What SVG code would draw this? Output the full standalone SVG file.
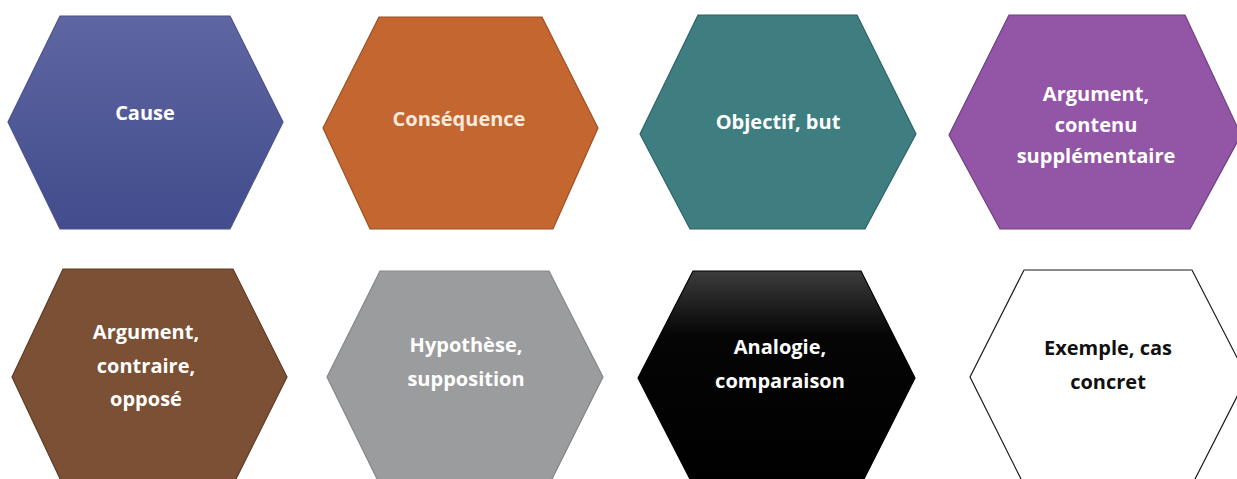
<svg xmlns="http://www.w3.org/2000/svg" width="1237" height="479" viewBox="0 0 1237 479">
  <style>
    .hex { stroke-width: 1.2; }
    .lbl { font-family: "Open Sans", "Liberation Sans", sans-serif; font-weight: 700; font-size: 20px; text-anchor: middle; fill: #ffffff; }
    .dark { fill: #111111; }
  </style>
  <defs>
    <linearGradient id="gBlue" x1="0" y1="0" x2="0" y2="1">
      <stop offset="0" stop-color="#5e67a2"/>
      <stop offset="1" stop-color="#434c8c"/>
    </linearGradient>
    <linearGradient id="gBlack" x1="0" y1="0" x2="0" y2="1">
      <stop offset="0" stop-color="#3c3c3c"/>
      <stop offset="0.3" stop-color="#050505"/>
      <stop offset="1" stop-color="#000000"/>
    </linearGradient>
  </defs>

  <rect width="1237" height="479" fill="#ffffff"/>

  <g id="cause">
    <polygon class="hex" points="60,16 230,16 283,122 230,229 60,229 8,122" fill="url(#gBlue)" stroke="#4a528f"/>
    <text class="lbl" x="145" y="120">Cause</text>
  </g>

  <g id="consequence">
    <polygon class="hex" points="379,17 542,17 598,128 553,229 370,229 323,128" fill="#c3662f" stroke="#9c5025"/>
    <text class="lbl" x="459" y="126" style="fill:#fbe9dc">Conséquence</text>
  </g>

  <g id="objectif">
    <polygon class="hex" points="698,15 857,15 916,134 865,229 690,229 640,134" fill="#3e7d80" stroke="#2f6366"/>
    <text class="lbl" x="778" y="129">Objectif, but</text>
  </g>

  <g id="argument-supplementaire">
    <polygon class="hex" points="1009,15 1185,15 1241,135 1190,229 1000,229 949,135" fill="#9356a6" stroke="#6f3f80"/>
    <text class="lbl" x="1096" y="101">Argument,</text>
    <text class="lbl" x="1096" y="132">contenu</text>
    <text class="lbl" x="1096" y="163">supplémentaire</text>
  </g>

  <g id="argument-contraire">
    <polygon class="hex" points="63,269 233,269 287,377 233,485 63,485 12,377" fill="#7b5034" stroke="#5d3b25"/>
    <text class="lbl" x="146" y="339">Argument,</text>
    <text class="lbl" x="146" y="373">contraire,</text>
    <text class="lbl" x="146" y="406">opposé</text>
  </g>

  <g id="hypothese">
    <polygon class="hex" points="380,271 549,271 603,377 549,485 380,485 327,377" fill="#9b9c9e" stroke="#85868a"/>
    <text class="lbl" x="466" y="352">Hypothèse,</text>
    <text class="lbl" x="466" y="386">supposition</text>
  </g>

  <g id="analogie">
    <polygon class="hex" points="693,271 861,271 915,378 861,485 693,485 638,378" fill="url(#gBlack)" stroke="#000000"/>
    <text class="lbl" x="780" y="354">Analogie,</text>
    <text class="lbl" x="780" y="388">comparaison</text>
  </g>

  <g id="exemple">
    <polygon class="hex" points="1024,270 1192,270 1247,377 1192,485 1024,485 970,377" fill="#ffffff" stroke="#1a1a1a" stroke-width="2.4"/>
    <text class="lbl dark" x="1108" y="355">Exemple, cas</text>
    <text class="lbl dark" x="1108" y="389">concret</text>
  </g>
</svg>
